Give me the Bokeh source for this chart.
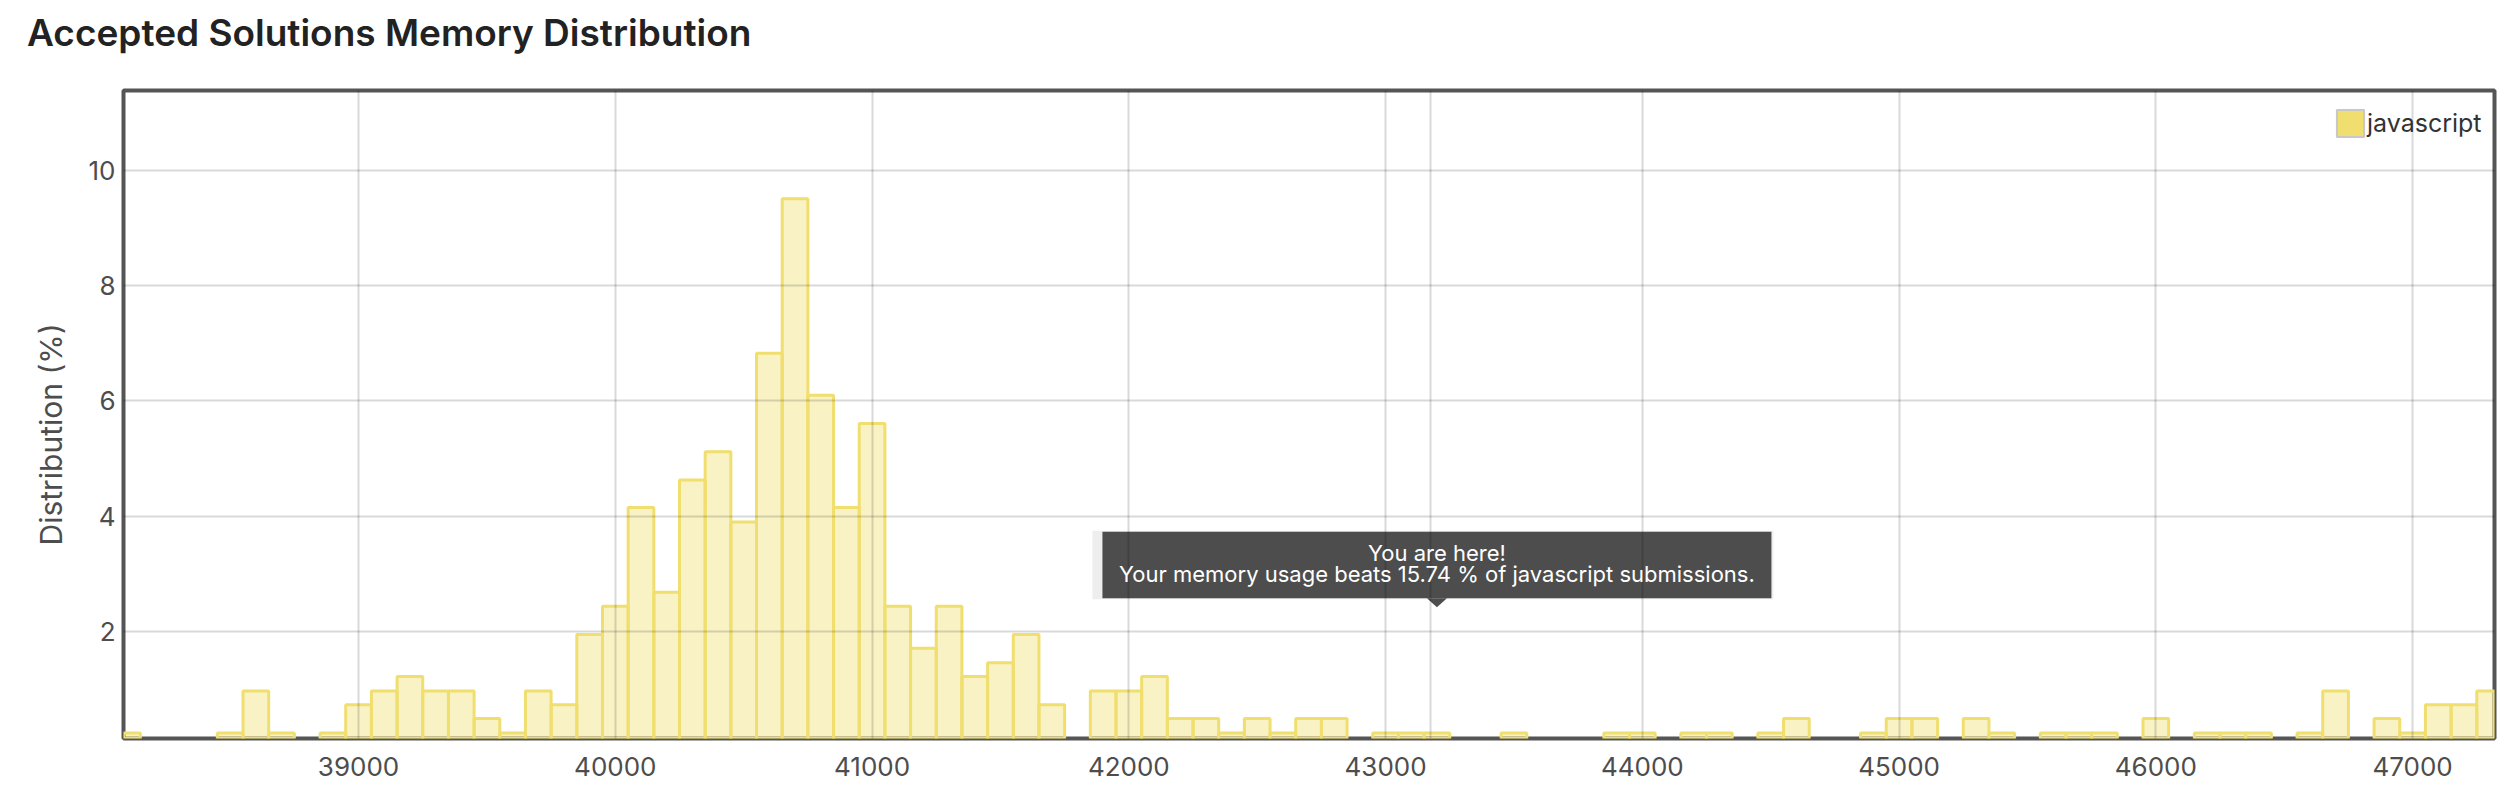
from bokeh.plotting import figure
from bokeh.layouts import column
from bokeh.models import (FixedTicker, Legend, LegendItem, Span, Label, Range1d,
                          ColumnDataSource, Title, Div)
from bokeh.embed import file_html
from bokeh.resources import INLINE

# ---------------- data ----------------
title_text = "Accepted Solutions Memory Distribution"
y_axis_label = "Distribution (%)"
series_name = "javascript"

memory_kb = [38100, 38500, 38600, 38700, 38900, 39000, 39100, 39200, 39300, 39400,
             39500, 39600, 39700, 39800, 39900,
             40000, 40100, 40200, 40300, 40400, 40500, 40600, 40700, 40800, 40900,
             41000, 41100, 41200, 41300, 41400, 41500, 41600, 41700,
             41900, 42000, 42100, 42200, 42300, 42400, 42500, 42600, 42700, 42800,
             43000, 43100, 43200, 43500, 43900, 44000, 44200, 44300, 44500, 44600,
             44900, 45000, 45100, 45300, 45400,
             45600, 45700, 45800, 46000, 46200, 46300, 46400, 46600, 46700, 46900,
             47000, 47100, 47200, 47300]
distribution_pct = [0.24, 0.24, 0.97, 0.24, 0.24, 0.73, 0.97, 1.22, 0.97, 0.97,
                    0.49, 0.24, 0.97, 0.73, 1.95,
                    2.44, 4.15, 2.68, 4.63, 5.12, 3.90, 6.83, 9.51, 6.10, 4.15,
                    5.61, 2.44, 1.71, 2.44, 1.22, 1.46, 1.95, 0.73,
                    0.97, 0.97, 1.22, 0.49, 0.49, 0.24, 0.49, 0.24, 0.49, 0.49,
                    0.24, 0.24, 0.24, 0.24, 0.24, 0.24, 0.24, 0.24, 0.24, 0.49,
                    0.24, 0.49, 0.49, 0.49, 0.24,
                    0.24, 0.24, 0.24, 0.49, 0.24, 0.24, 0.24, 0.24, 0.97, 0.49,
                    0.24, 0.73, 0.73, 0.97]
bin_width_kb = 100
x_tick_values = [39000, 40000, 41000, 42000, 43000, 44000, 45000, 46000, 47000]
y_tick_values = [2, 4, 6, 8, 10]

user_memory_kb = 43175      # marker line
user_bin_kb = 43200         # tooltip anchor bin
beats_pct = 15.74
tooltip_anchor_pct = 2.42

# ---------------- layout ----------------
X_RANGE = (38084.5, 47319.0)
Y_RANGE = (0.144, 11.387)
TITLE_H = 66
W, H = 2504, 790 - TITLE_H
MB_L, MB_R, MB_T, MB_B = 123, 10, 90 - TITLE_H, 52
FRAME_W = W - MB_L - MB_R
FRAME_H = H - MB_T - MB_B
XU = (X_RANGE[1] - X_RANGE[0]) / FRAME_W   # data units per px
YU = (Y_RANGE[1] - Y_RANGE[0]) / FRAME_H

FONT = "Inter"
BAR_COLOR = "#f0de6e"
NAN = float("nan")

title_div = Div(
    text=(f'<div style="font-family: Inter, sans-serif; font-size: 37px; '
          f'font-weight: 600; line-height: {TITLE_H}px; color: #222222; '
          f'padding-left: 27px; white-space: nowrap;">{title_text}</div>'),
    width=W, height=TITLE_H, margin=(0, 0, 0, 0))

p = figure(width=W, height=H, output_backend="svg", toolbar_location=None,
           x_range=Range1d(*X_RANGE), y_range=Range1d(*Y_RANGE),
           min_border_left=MB_L, min_border_right=MB_R,
           min_border_top=MB_T, min_border_bottom=MB_B,
           background_fill_color="white", border_fill_color="white",
           margin=(0, 0, 0, 0))
p.title = None

p.outline_line_color = "#555555"
p.outline_line_width = 4

for ax in (p.xaxis[0], p.yaxis[0]):
    ax.axis_line_color = None
    ax.major_tick_line_color = None
    ax.minor_tick_line_color = None
    ax.major_tick_out = 0
    ax.major_tick_in = 0
    ax.minor_tick_out = 0
    ax.major_label_text_font = FONT
    ax.major_label_text_font_size = "26px"
    ax.major_label_text_color = "#4d4d4d"

p.xaxis.ticker = FixedTicker(ticks=x_tick_values)
p.yaxis.ticker = FixedTicker(ticks=y_tick_values)
p.xaxis.major_label_standoff = 18
p.yaxis.major_label_standoff = 8

# y-axis title, placed a little below the frame centre as in the original
p.add_layout(Title(text=y_axis_label, align="left", offset=193, standoff=34,
                   text_font=FONT, text_font_size="30px",
                   text_font_style="normal", text_color="#4d4d4d"), "left")

p.grid.grid_line_color = "black"
p.grid.grid_line_alpha = 0.15
p.grid.grid_line_width = 2
p.grid.level = "guide"
p.xgrid.ticker = FixedTicker(ticks=x_tick_values)
p.ygrid.ticker = FixedTicker(ticks=y_tick_values)

src = ColumnDataSource(dict(x=memory_kb, top=distribution_pct))
p.vbar(x="x", top="top", bottom=0, width=bin_width_kb, source=src,
       fill_color=BAR_COLOR, fill_alpha=0.4, line_color=BAR_COLOR, line_width=3)

# marker line for the user's memory
p.add_layout(Span(location=user_memory_kb, dimension="height",
                  line_color="black", line_alpha=0.15, line_width=2, level="guide"))

# legend (swatch renderer holds no visible geometry)
leg_r = p.quad(left=[NAN], right=[NAN], top=[NAN], bottom=[NAN], fill_color=BAR_COLOR,
               line_color="#c8c8c8", line_width=2)
legend = Legend(items=[LegendItem(label=series_name, renderers=[leg_r])],
                location=(2210, 598), orientation="vertical",
                padding=0, margin=0, spacing=0,
                glyph_width=34, glyph_height=34, label_height=34,
                label_standoff=0,
                label_text_font=FONT, label_text_font_size="25px",
                label_text_color="#333333",
                background_fill_alpha=0, border_line_alpha=0)
p.add_layout(legend, "center")

# tooltip
box_bottom = tooltip_anchor_pct + 9 * YU
box_top = box_bottom + 66.5 * YU
half_w = 334.5 * XU
p.quad(left=[user_bin_kb - half_w - 10 * XU], right=[user_bin_kb + half_w + 2 * XU],
       bottom=[box_bottom - 1 * YU], top=[box_top + 1 * YU],
       fill_color="#eeeeee", line_color=None)
p.quad(left=[user_bin_kb - half_w], right=[user_bin_kb + half_w],
       bottom=[box_bottom], top=[box_top],
       fill_color="#4d4d4d", line_color=None)
p.patch(x=[user_bin_kb - 10 * XU, user_bin_kb + 10 * XU, user_bin_kb],
        y=[box_bottom, box_bottom, tooltip_anchor_pct],
        fill_color="#4d4d4d", line_color=None)
p.add_layout(Label(x=user_bin_kb, y=tooltip_anchor_pct + 54.5 * YU,
                   text="You are here!", text_align="center",
                   text_baseline="alphabetic", text_color="white",
                   text_font=FONT, text_font_size="22px"))
p.add_layout(Label(x=user_bin_kb, y=tooltip_anchor_pct + 33 * YU,
                   text=f"Your memory usage beats {beats_pct} % of {series_name} submissions.",
                   text_align="center", text_baseline="alphabetic",
                   text_color="white", text_font=FONT, text_font_size="22px"))

layout = column(title_div, p, spacing=0, margin=(0, 0, 0, 0))
open("out.html", "w").write(file_html(layout, INLINE))
